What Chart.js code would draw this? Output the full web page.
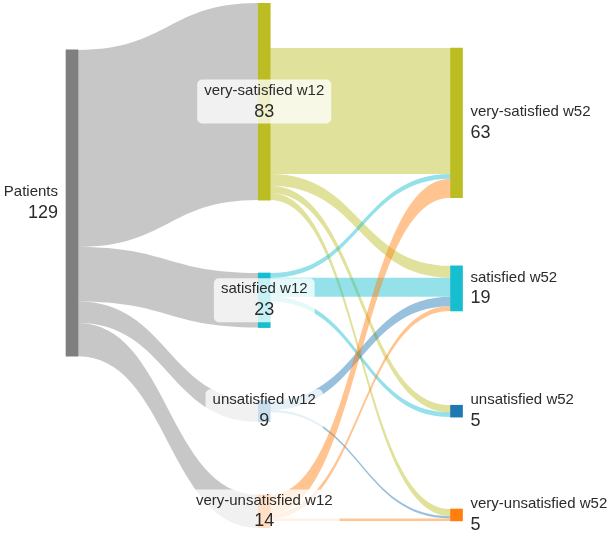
<!DOCTYPE html>
<html>
<head>
<meta charset="utf-8">
<script src="https://cdn.jsdelivr.net/npm/chart.js@4.4.1/dist/chart.umd.min.js"></script>
<style>
  html, body { margin: 0; padding: 0; background: #fff; }
  canvas { display: block; }
</style>
</head>
<body>
<canvas id="sankeyChart" width="613" height="537"></canvas>
<script>
const categories = ['very-satisfied', 'satisfied', 'unsatisfied', 'very-unsatisfied'];
const totalPatients = 129;
const week12Counts = [83, 23, 9, 14];
const week52Counts = [63, 19, 5, 5];
// rows: state at w12, columns: state at w52
const transitions = [
    [53, 5, 3, 3],
    [2, 8, 2, 0],
    [0, 4, 0, 1],
    [8, 2, 0, 1]
];

const patientColor = '#7f7f7f';
const stateColors = ['#bcbd22', '#17becf', '#1f77b4', '#ff7f0e'];
const fontFamily = '"Liberation Sans", Arial, sans-serif';
const nodeWidth = 12;
const nodeGap = 30.7; // gap between nodes, in patients

const sum = a => a.reduce((s, v) => s + v, 0);
const fade = (hex, a) => {
    const n = parseInt(hex.slice(1), 16);
    return `rgba(${n >> 16}, ${(n >> 8) & 255}, ${n & 255}, ${a})`;
};

// --- layout (in patient units) ---
const w12Top = [];
let acc = 0;
week12Counts.forEach(v => { w12Top.push(acc); acc += v + nodeGap; });
const yMax = acc - nodeGap;

const inOffset = (i, j) => { let s = 0; for (let k = 0; k < i; k++) s += transitions[k][j]; return s; };
const outOffset = (i, j) => { let s = 0; for (let k = 0; k < j; k++) s += transitions[i][k]; return s; };

let shift = week12Counts.map(() => 0);
let w52Top = [];
function placeW52() {
    // keep the link that stays in the same state flat, otherwise line up with the w12 node
    w52Top = categories.map((c, j) => transitions[j][j] > 0
        ? w12Top[j] + shift[j] + outOffset(j, j) - inOffset(j, j)
        : w12Top[j] + (week12Counts[j] - week52Counts[j]) / 2);
}
function placeShifts() {
    // patients missing at w52 leave room inside a w12 node; slide the outgoing links within it
    shift = week12Counts.map((v, i) => {
        const slack = v - sum(transitions[i]);
        const wanted = [];
        transitions[i].forEach((t, j) => {
            if (t > 0 && j !== i) wanted.push({ d: w52Top[j] + inOffset(i, j) - w12Top[i] - outOffset(i, j), w: t });
        });
        wanted.sort((a, b) => a.d - b.d);
        let half = sum(wanted.map(o => o.w)) / 2, d = 0;
        for (const o of wanted) { d = o.d; half -= o.w; if (half <= 0) break; }
        return Math.min(slack, Math.max(0, d));
    });
}
for (let n = 0; n < 3; n++) { placeW52(); placeShifts(); }
placeW52();

let cum = 0, wsum = 0;
week12Counts.forEach((v, i) => { wsum += v * (w12Top[i] - cum); cum += v; });
const patientsTop = wsum / totalPatients;

const nodes = [{ col: 0, top: patientsTop, value: totalPatients, name: 'Patients', color: patientColor }];
categories.forEach((c, i) => nodes.push({ col: 1, top: w12Top[i], value: week12Counts[i], name: c + ' w12', color: stateColors[i] }));
categories.forEach((c, j) => nodes.push({ col: 2, top: w52Top[j], value: week52Counts[j], name: c + ' w52', color: stateColors[j] }));

const links = [];
cum = 0;
week12Counts.forEach((v, i) => {
    links.push({ fromCol: 0, toCol: 1, sy: patientsTop + cum, ty: w12Top[i], value: v, color: fade(patientColor, 0.44) });
    cum += v;
});
transitions.forEach((row, i) => row.forEach((t, j) => {
    if (!t) return;
    links.push({
        fromCol: 1, toCol: 2,
        sy: w12Top[i] + shift[i] + outOffset(i, j),
        ty: w52Top[j] + inOffset(i, j),
        value: t, color: fade(stateColors[i], 0.46)
    });
}));

const sankeyPlugin = {
    id: 'sankeyLinks',
    beforeDatasetsDraw(chart) {
        const { ctx, scales: { x, y } } = chart;
        ctx.save();
        links.forEach(l => {
            const x0 = x.getPixelForValue(l.fromCol) + nodeWidth / 2;
            const x1 = x.getPixelForValue(l.toCol) - nodeWidth / 2;
            const xm = (x0 + x1) / 2;
            const s0 = y.getPixelForValue(l.sy), s1 = y.getPixelForValue(l.sy + l.value);
            const t0 = y.getPixelForValue(l.ty), t1 = y.getPixelForValue(l.ty + l.value);
            ctx.beginPath();
            ctx.moveTo(x0, s0);
            ctx.bezierCurveTo(xm, s0, xm, t0, x1, t0);
            ctx.lineTo(x1, t1);
            ctx.bezierCurveTo(xm, t1, xm, s1, x0, s1);
            ctx.closePath();
            ctx.fillStyle = l.color;
            ctx.fill();
        });
        ctx.restore();
    },
    afterDatasetsDraw(chart) {
        const ctx = chart.ctx;
        const bars = chart.getDatasetMeta(0).data;
        ctx.save();
        ctx.textBaseline = 'middle';
        nodes.forEach((n, k) => {
            const bar = bars[k];
            const cy = (bar.y + bar.base) / 2;
            let tx = bar.x, align = 'center';
            if (n.col === 0) { tx = bar.x - nodeWidth / 2 - 8; align = 'right'; }
            if (n.col === 2) { tx = bar.x + nodeWidth / 2 + 8; align = 'left'; }
            if (n.col === 1) {
                ctx.font = '15px ' + fontFamily;
                const bw = Math.max(ctx.measureText(n.name).width, 20) + 14;
                ctx.fillStyle = 'rgba(255, 255, 255, 0.76)';
                ctx.beginPath();
                ctx.roundRect(bar.x - bw / 2, cy - 22, bw, 44, 5);
                ctx.fill();
            }
            ctx.textAlign = align;
            ctx.fillStyle = '#2b2b2b';
            ctx.font = '15px ' + fontFamily;
            ctx.fillText(n.name, tx, cy - 11);
            ctx.font = '18px ' + fontFamily;
            ctx.fillText(String(n.value), tx, cy + 10);
        });
        ctx.restore();
    }
};

const ctx = document.getElementById('sankeyChart').getContext('2d');
const sankeyChart = new Chart(ctx, {
    type: 'bar',
    data: {
        datasets: [{
            data: nodes.map(n => ({ x: n.col, y: [n.top, n.top + n.value] })),
            backgroundColor: nodes.map(n => n.color),
            barThickness: nodeWidth,
            borderWidth: 0,
            borderSkipped: false
        }]
    },
    options: {
        responsive: false,
        animation: false,
        layout: { padding: { top: 3, bottom: 9, left: 0, right: 0 } },
        scales: {
            x: { type: 'linear', min: -0.3745, max: 2.814, offset: false, display: false },
            y: { min: 0, max: yMax, reverse: true, display: false }
        },
        plugins: {
            legend: { display: false },
            tooltip: { enabled: false }
        }
    },
    plugins: [sankeyPlugin]
});
</script>
</body>
</html>
